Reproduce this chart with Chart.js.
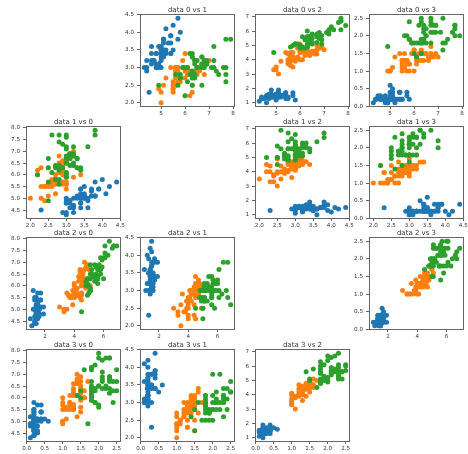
<!DOCTYPE html>
<html>
<head>
<meta charset="utf-8">
<script src="https://cdn.jsdelivr.net/npm/chart.js@4.4.0/dist/chart.umd.min.js"></script>
<style>
  html, body { margin: 0; padding: 0; background: #fff; }
  #grid { position: relative; width: 468px; height: 454px; overflow: hidden; }
  #grid canvas { position: absolute; }
</style>
</head>
<body>
<div id="grid"></div>
<script>
// iris measurements, rows 0-49 / 50-99 / 100-149 are the three classes
const sepalLength = [
  5.1,4.9,4.7,4.6,5.0,5.4,4.6,5.0,4.4,4.9,5.4,4.8,4.8,4.3,5.8,5.7,5.4,5.1,5.7,5.1,5.4,5.1,4.6,5.1,4.8,
  5.0,5.0,5.2,5.2,4.7,4.8,5.4,5.2,5.5,4.9,5.0,5.5,4.9,4.4,5.1,5.0,4.5,4.4,5.0,5.1,4.8,5.1,4.6,5.3,5.0,
  7.0,6.4,6.9,5.5,6.5,5.7,6.3,4.9,6.6,5.2,5.0,5.9,6.0,6.1,5.6,6.7,5.6,5.8,6.2,5.6,5.9,6.1,6.3,6.1,6.4,
  6.6,6.8,6.7,6.0,5.7,5.5,5.5,5.8,6.0,5.4,6.0,6.7,6.3,5.6,5.5,5.5,6.1,5.8,5.0,5.6,5.7,5.7,6.2,5.1,5.7,
  6.3,5.8,7.1,6.3,6.5,7.6,4.9,7.3,6.7,7.2,6.5,6.4,6.8,5.7,5.8,6.4,6.5,7.7,7.7,6.0,6.9,5.6,7.7,6.3,6.7,
  7.2,6.2,6.1,6.4,7.2,7.4,7.9,6.4,6.3,6.1,7.7,6.3,6.4,6.0,6.9,6.7,6.9,5.8,6.8,6.7,6.7,6.3,6.5,6.2,5.9
];
const sepalWidth = [
  3.5,3.0,3.2,3.1,3.6,3.9,3.4,3.4,2.9,3.1,3.7,3.4,3.0,3.0,4.0,4.4,3.9,3.5,3.8,3.8,3.4,3.7,3.6,3.3,3.4,
  3.0,3.4,3.5,3.4,3.2,3.1,3.4,4.1,4.2,3.1,3.2,3.5,3.6,3.0,3.4,3.5,2.3,3.2,3.5,3.8,3.0,3.8,3.2,3.7,3.3,
  3.2,3.2,3.1,2.3,2.8,2.8,3.3,2.4,2.9,2.7,2.0,3.0,2.2,2.9,2.9,3.1,3.0,2.7,2.2,2.5,3.2,2.8,2.5,2.8,2.9,
  3.0,2.8,3.0,2.9,2.6,2.4,2.4,2.7,2.7,3.0,3.4,3.1,2.3,3.0,2.5,2.6,3.0,2.6,2.3,2.7,3.0,2.9,2.9,2.5,2.8,
  3.3,2.7,3.0,2.9,3.0,3.0,2.5,2.9,2.5,3.6,3.2,2.7,3.0,2.5,2.8,3.2,3.0,3.8,2.6,2.2,3.2,2.8,2.8,2.7,3.3,
  3.2,2.8,3.0,2.8,3.0,2.8,3.8,2.8,2.8,2.6,3.0,3.4,3.1,3.0,3.1,3.1,3.1,2.7,3.2,3.3,3.0,2.5,3.0,3.4,3.0
];
const petalLength = [
  1.4,1.4,1.3,1.5,1.4,1.7,1.4,1.5,1.4,1.5,1.5,1.6,1.4,1.1,1.2,1.5,1.3,1.4,1.7,1.5,1.7,1.5,1.0,1.7,1.9,
  1.6,1.6,1.5,1.4,1.6,1.6,1.5,1.5,1.4,1.5,1.2,1.3,1.4,1.3,1.5,1.3,1.3,1.3,1.6,1.9,1.4,1.6,1.4,1.5,1.4,
  4.7,4.5,4.9,4.0,4.6,4.5,4.7,3.3,4.6,3.9,3.5,4.2,4.0,4.7,3.6,4.4,4.5,4.1,4.5,3.9,4.8,4.0,4.9,4.7,4.3,
  4.4,4.8,5.0,4.5,3.5,3.8,3.7,3.9,5.1,4.5,4.5,4.7,4.4,4.1,4.0,4.4,4.6,4.0,3.3,4.2,4.2,4.2,4.3,3.0,4.1,
  6.0,5.1,5.9,5.6,5.8,6.6,4.5,6.3,5.8,6.1,5.1,5.3,5.5,5.0,5.1,5.3,5.5,6.7,6.9,5.0,5.7,4.9,6.7,4.9,5.7,
  6.0,4.8,4.9,5.6,5.8,6.1,6.4,5.6,5.1,5.6,6.1,5.6,5.5,4.8,5.4,5.6,5.1,5.1,5.9,5.7,5.2,5.0,5.2,5.4,5.1
];
const petalWidth = [
  0.2,0.2,0.2,0.2,0.2,0.4,0.3,0.2,0.2,0.1,0.2,0.2,0.1,0.1,0.2,0.4,0.4,0.3,0.3,0.3,0.2,0.4,0.2,0.5,0.2,
  0.2,0.4,0.2,0.2,0.2,0.2,0.4,0.1,0.2,0.2,0.2,0.2,0.1,0.2,0.2,0.3,0.3,0.2,0.6,0.4,0.3,0.2,0.2,0.2,0.2,
  1.4,1.5,1.5,1.3,1.5,1.3,1.6,1.0,1.3,1.4,1.0,1.5,1.0,1.4,1.3,1.4,1.5,1.0,1.5,1.1,1.8,1.3,1.5,1.2,1.3,
  1.4,1.4,1.7,1.5,1.0,1.1,1.0,1.2,1.6,1.5,1.6,1.5,1.3,1.3,1.3,1.2,1.4,1.2,1.0,1.3,1.2,1.3,1.3,1.1,1.3,
  2.5,1.9,2.1,1.8,2.2,2.1,1.7,1.8,1.8,2.5,2.0,1.9,2.1,2.0,2.4,2.3,1.8,2.2,2.3,1.5,2.3,2.0,2.0,1.8,2.1,
  1.8,1.8,1.8,2.1,1.6,1.9,2.0,2.2,1.5,1.4,2.3,2.4,1.8,1.8,2.1,2.4,2.3,1.9,2.3,2.5,2.3,1.9,2.0,2.3,1.8
];
const features = [sepalLength, sepalWidth, petalLength, petalWidth];
const classRanges = [[0, 50], [50, 100], [100, 150]];
const classColors = ['#1f77b4', '#ff7f0e', '#2ca02c'];

// axis limits and tick labels per feature
const axisMin = [4.12, 1.88, 0.705, -0.02];
const axisMax = [8.08, 4.52, 7.195, 2.62];
const xTicks = [[5, 6, 7, 8], [2.0, 2.5, 3.0, 3.5, 4.0, 4.5], [2, 4, 6], [0.0, 0.5, 1.0, 1.5, 2.0, 2.5]];
const yTicks = [[4.5, 5.0, 5.5, 6.0, 6.5, 7.0, 7.5, 8.0], [2.0, 2.5, 3.0, 3.5, 4.0, 4.5], [1, 2, 3, 4, 5, 6, 7], [0.0, 0.5, 1.0, 1.5, 2.0, 2.5]];
const xDecimals = [0, 1, 0, 1];
const yDecimals = [1, 1, 0, 1];

// grid geometry (plot area of each panel)
const colLeft = [26, 140, 255, 369];
const rowTop = [14, 126, 237, 349];
const plotW = 95, plotH = 93;
const padL = 30, padT = 14, padR = 8, padB = 14;

const FONT = "'DejaVu Sans', sans-serif";

const frameAndTitle = {
  id: 'frameAndTitle',
  afterDraw(chart) {
    const { ctx, chartArea: a } = chart;
    ctx.save();
    ctx.strokeStyle = '#666';
    ctx.lineWidth = 1;
    ctx.strokeRect(Math.round(a.left) + 0.5, Math.round(a.top) + 0.5, Math.round(a.right - a.left) - 1, Math.round(a.bottom - a.top) - 1);
    ctx.font = "7px " + FONT;
    ctx.fillStyle = '#333';
    ctx.textAlign = 'center';
    ctx.textBaseline = 'alphabetic';
    ctx.fillText(chart.options.panelTitle, (a.left + a.right) / 2, a.top - 2.5);
    ctx.restore();
  }
};

const grid = document.getElementById('grid');

for (let i = 0; i < 4; i++) {
  for (let j = 0; j < 4; j++) {
    if (i === j) continue;
    const canvas = document.createElement('canvas');
    const w = padL + plotW + padR, h = padT + plotH + padB;
    canvas.width = w; canvas.height = h;
    canvas.style.width = w + 'px'; canvas.style.height = h + 'px';
    canvas.style.left = (colLeft[j] - padL) + 'px';
    canvas.style.top = (rowTop[i] - padT) + 'px';
    grid.appendChild(canvas);

    const xs = features[i], ys = features[j];
    // blue drawn first, green last (on top)
    const datasets = classRanges.map(([s, e], k) => ({
      data: xs.slice(s, e).map((v, n) => ({ x: v, y: ys[s + n] })),
      backgroundColor: classColors[k],
      borderWidth: 0,
      pointRadius: 2.5,
      order: 3 - k
    }));

    const tickFont = { family: FONT, size: 5.6 };

    new Chart(canvas, {
      type: 'scatter',
      data: { datasets },
      plugins: [frameAndTitle],
      options: {
        panelTitle: 'data ' + i + ' vs ' + j,
        responsive: false,
        animation: false,
        devicePixelRatio: 1,
        events: [],
        layout: { padding: { left: 0, top: padT, right: padR, bottom: 0 } },
        plugins: { legend: { display: false }, tooltip: { enabled: false } },
        scales: {
          x: {
            type: 'linear', min: axisMin[i], max: axisMax[i],
            afterBuildTicks: s => { s.ticks = xTicks[i].map(v => ({ value: v })); },
            afterFit: s => { s.height = padB; },
            ticks: { color: '#333', font: tickFont, padding: 1, autoSkip: false, maxRotation: 0, callback: v => v.toFixed(xDecimals[i]) },
            grid: { display: true, drawOnChartArea: false, drawTicks: true, tickLength: 2, color: '#666' },
            border: { display: false }
          },
          y: {
            type: 'linear', min: axisMin[j], max: axisMax[j],
            afterBuildTicks: s => { s.ticks = yTicks[j].map(v => ({ value: v })); },
            afterFit: s => { s.width = padL; },
            ticks: { color: '#333', font: tickFont, padding: 3, autoSkip: false, callback: v => v.toFixed(yDecimals[j]) },
            grid: { display: true, drawOnChartArea: false, drawTicks: true, tickLength: 3, color: '#666' },
            border: { display: false }
          }
        }
      }
    });
  }
}
</script>
</body>
</html>
